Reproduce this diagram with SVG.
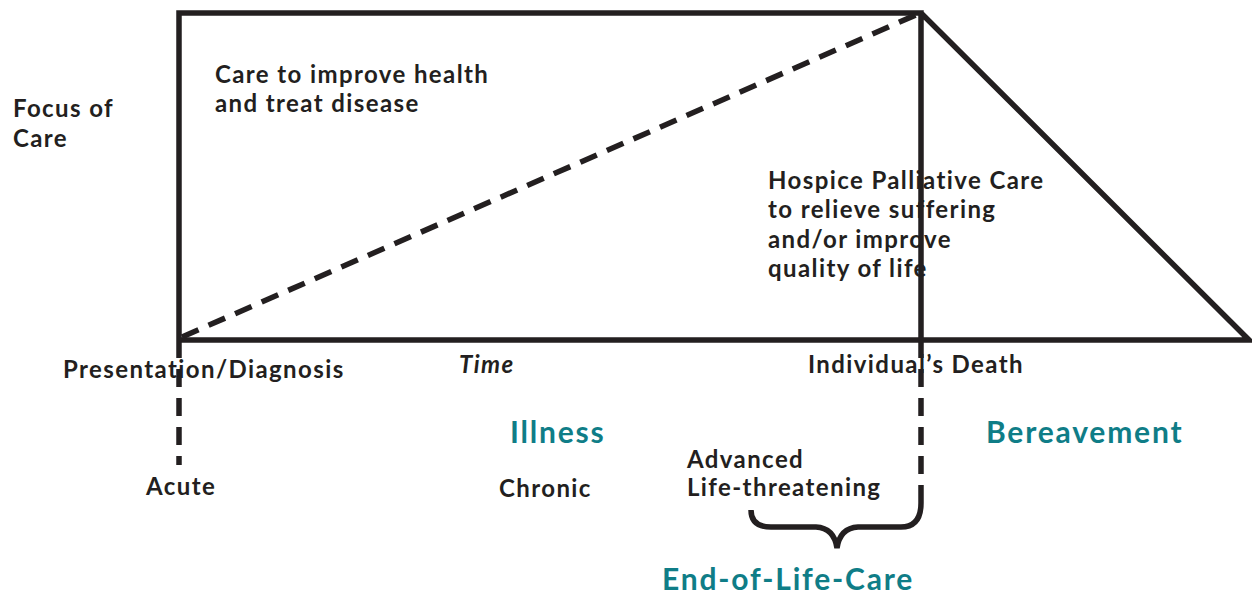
<svg xmlns="http://www.w3.org/2000/svg" width="1252" height="596" viewBox="0 0 1252 596">
<style>
.ln{fill:none;stroke:#231f20;stroke-width:5.5;stroke-linecap:butt;stroke-linejoin:miter}
.dash{stroke-dasharray:18 11}
.t{font-family:Lato,"Open Sans",sans-serif;font-weight:700;font-size:24px;letter-spacing:1.4px;fill:#231f20}
.it{font-style:italic}
.h{font-family:Lato,"Open Sans",sans-serif;font-weight:700;font-size:30px;letter-spacing:1.8px;fill:#0f7d87}
</style>
<rect width="1252" height="596" fill="#fff"/>
<g id="connectors">
<path class="ln" d="M179,340 V13 H921 V340 M921,13 L1249,340 H179"/>
<path class="ln dash" d="M182,337 L918,14"/>
<path class="ln dash" d="M179,340 V465"/>
<path class="ln dash" d="M921,340 V505"/>
<path class="ln" stroke-width="6.5" d="M751,510 Q751,527 771,527 L816,527 Q834,528 837,548 Q840,528 858,527 L901,527 Q921,527 921,503"/>
</g>
<g id="focus"><text class="t" x="13" y="117">Focus of</text><text class="t" x="13" y="147">Care</text></g>
<g id="cure"><text class="t" x="215" y="83">Care to improve health</text><text class="t" x="215" y="112">and treat disease</text></g>
<g id="hospice"><text class="t" x="768" y="189">Hospice Palliative Care</text><text class="t" x="768" y="218">to relieve suffering</text><text class="t" x="768" y="248">and/or improve</text><text class="t" x="768" y="277">quality of life</text></g>
<g id="diagnosis"><text class="t" x="63" y="378">Presentation/Diagnosis</text></g>
<g id="time"><text class="t it" x="459" y="373">Time</text></g>
<g id="death"><text class="t" x="808" y="373">Individual’s Death</text></g>
<g id="illness"><text class="h" x="510" y="443">Illness</text></g>
<g id="bereavement"><text class="h" x="986" y="443">Bereavement</text></g>
<g id="acute"><text class="t" x="146" y="495">Acute</text></g>
<g id="chronic"><text class="t" x="499" y="497">Chronic</text></g>
<g id="advanced"><text class="t" x="687" y="468">Advanced</text><text class="t" x="687" y="496">Life-threatening</text></g>
<g id="eolc"><text class="h" x="662" y="590">End-of-Life-Care</text></g>
</svg>
